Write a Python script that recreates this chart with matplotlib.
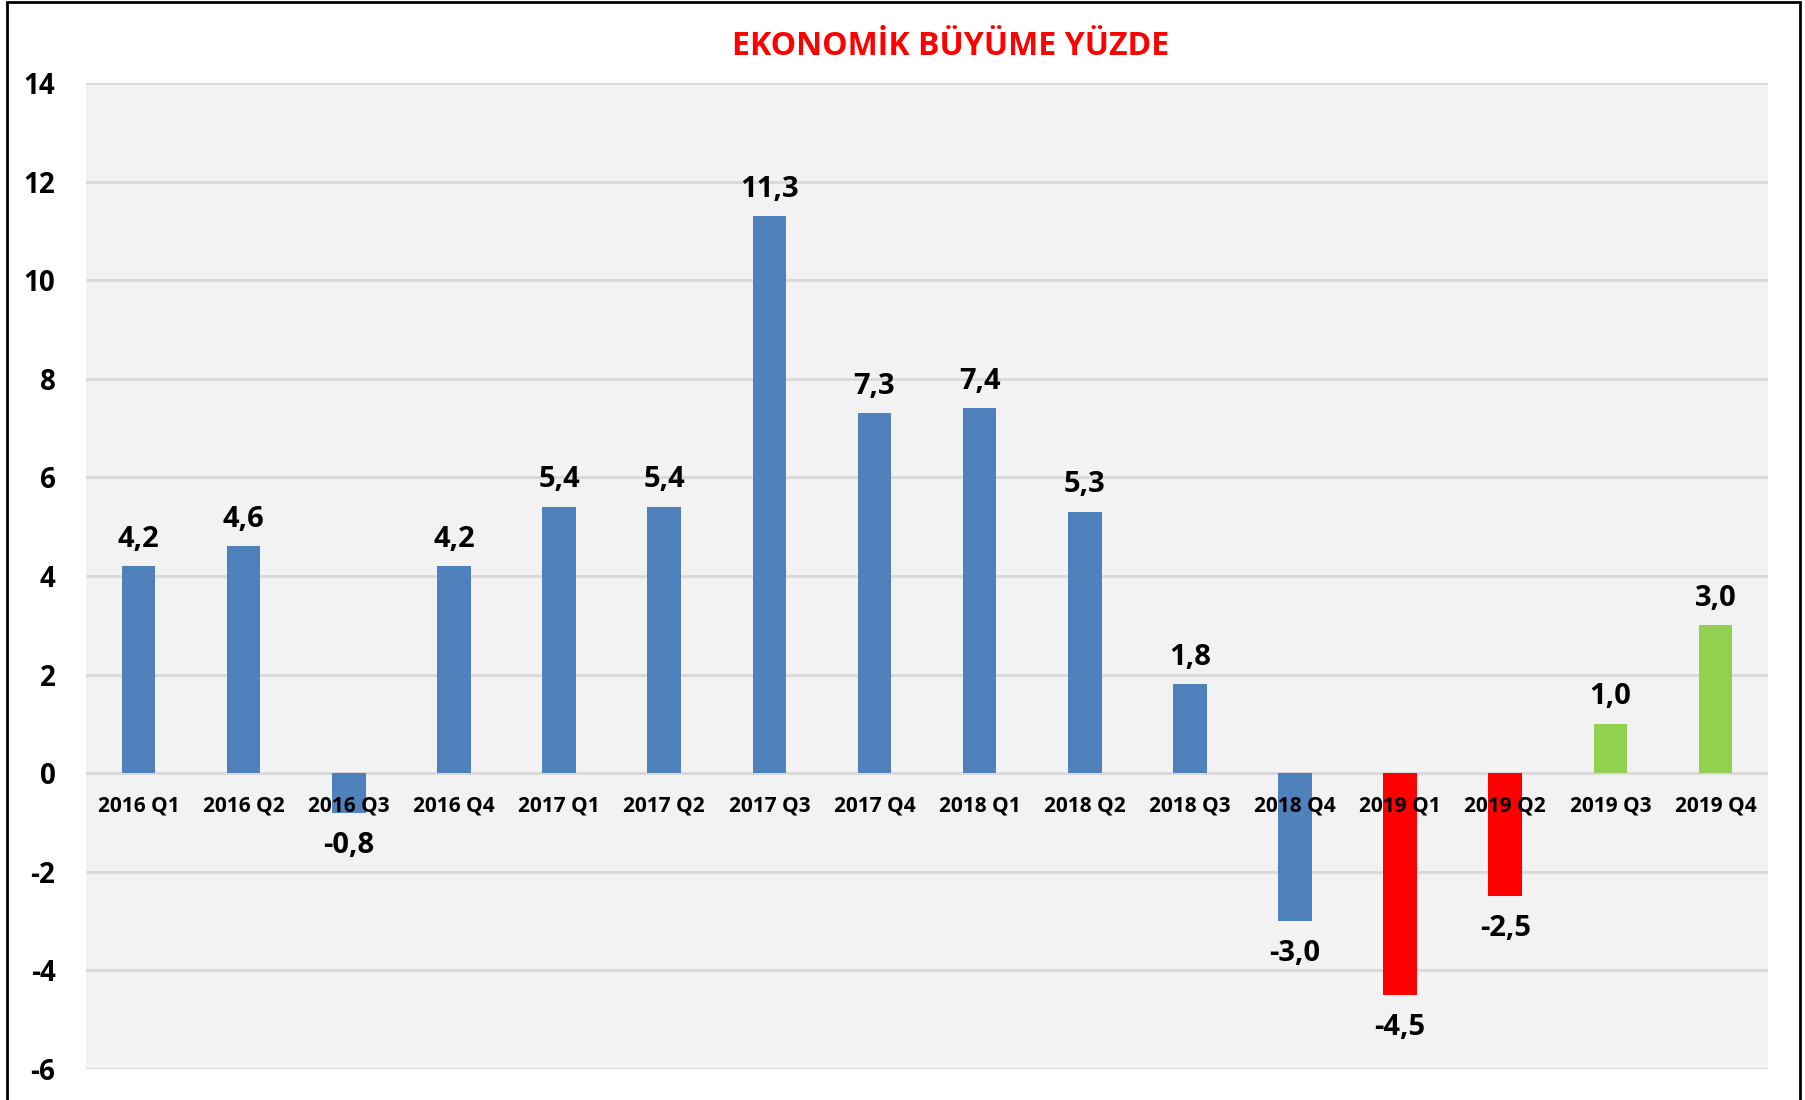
import matplotlib
matplotlib.use("Agg")
import matplotlib.pyplot as plt
from matplotlib.patches import Rectangle

# Data
quarters = ["2016 Q1", "2016 Q2", "2016 Q3", "2016 Q4",
            "2017 Q1", "2017 Q2", "2017 Q3", "2017 Q4",
            "2018 Q1", "2018 Q2", "2018 Q3", "2018 Q4",
            "2019 Q1", "2019 Q2", "2019 Q3", "2019 Q4"]
growth = [4.2, 4.6, -0.8, 4.2, 5.4, 5.4, 11.3, 7.3,
          7.4, 5.3, 1.8, -3.0, -4.5, -2.5, 1.0, 3.0]
bar_colors = ["#4F81BD"] * 12 + ["#FF0000"] * 2 + ["#92D050"] * 2
y_ticks = [-6, -4, -2, 0, 2, 4, 6, 8, 10, 12, 14]

plt.rcParams["font.family"] = ["Open Sans", "DejaVu Sans"]
plt.rcParams["font.weight"] = "bold"

fig = plt.figure(figsize=(18.06, 11.0), dpi=100)
ax = fig.add_axes([0.0476, 0.0282, 0.9314, 0.8963])
ax.set_facecolor("#F2F2F2")

x = range(len(quarters))
ax.bar(x, growth, width=0.32, color=bar_colors, zorder=2)

ax.set_xlim(-0.5, len(quarters) - 0.5)
ax.set_ylim(-6, 14)
ax.set_yticks(y_ticks)
ax.set_yticklabels([str(t) for t in y_ticks], fontsize=20, fontweight="bold")
ax.grid(axis="y", color="#D9D9D9", linewidth=2, zorder=1)
ax.set_axisbelow(True)

# category labels just under the zero line
ax.spines["bottom"].set_position(("data", 0))
ax.set_xticks(list(x))
ax.set_xticklabels(quarters, fontsize=15, fontweight="bold")
ax.xaxis.set_zorder(5)
ax.tick_params(axis="x", length=0, pad=16)
ax.tick_params(axis="y", length=0, pad=22)
for s in ax.spines.values():
    s.set_visible(False)

# value labels
for i, v in enumerate(growth):
    txt = f"{v:.1f}".replace(".", ",")
    if v >= 0:
        ax.annotate(txt, (i, v), xytext=(0, 9), textcoords="offset points",
                    ha="center", va="bottom", fontsize=21, fontweight="bold", zorder=6)
    else:
        ax.annotate(txt, (i, v), xytext=(0, -13), textcoords="offset points",
                    ha="center", va="top", fontsize=21, fontweight="bold", zorder=6)

fig.text(0.5266, 0.958, "EKONOMİK BÜYÜME YÜZDE", color="#FF0000",
         fontsize=23, fontweight="bold", ha="center", va="center")

# outer frame (bottom edge runs off the picture)
fig.patches.append(Rectangle((7 / 1806, -0.05), (1800 - 7) / 1806, 1.05 - 2 / 1100,
                             transform=fig.transFigure, fill=False,
                             edgecolor="black", linewidth=2))

fig.savefig("out.png", dpi=100)
